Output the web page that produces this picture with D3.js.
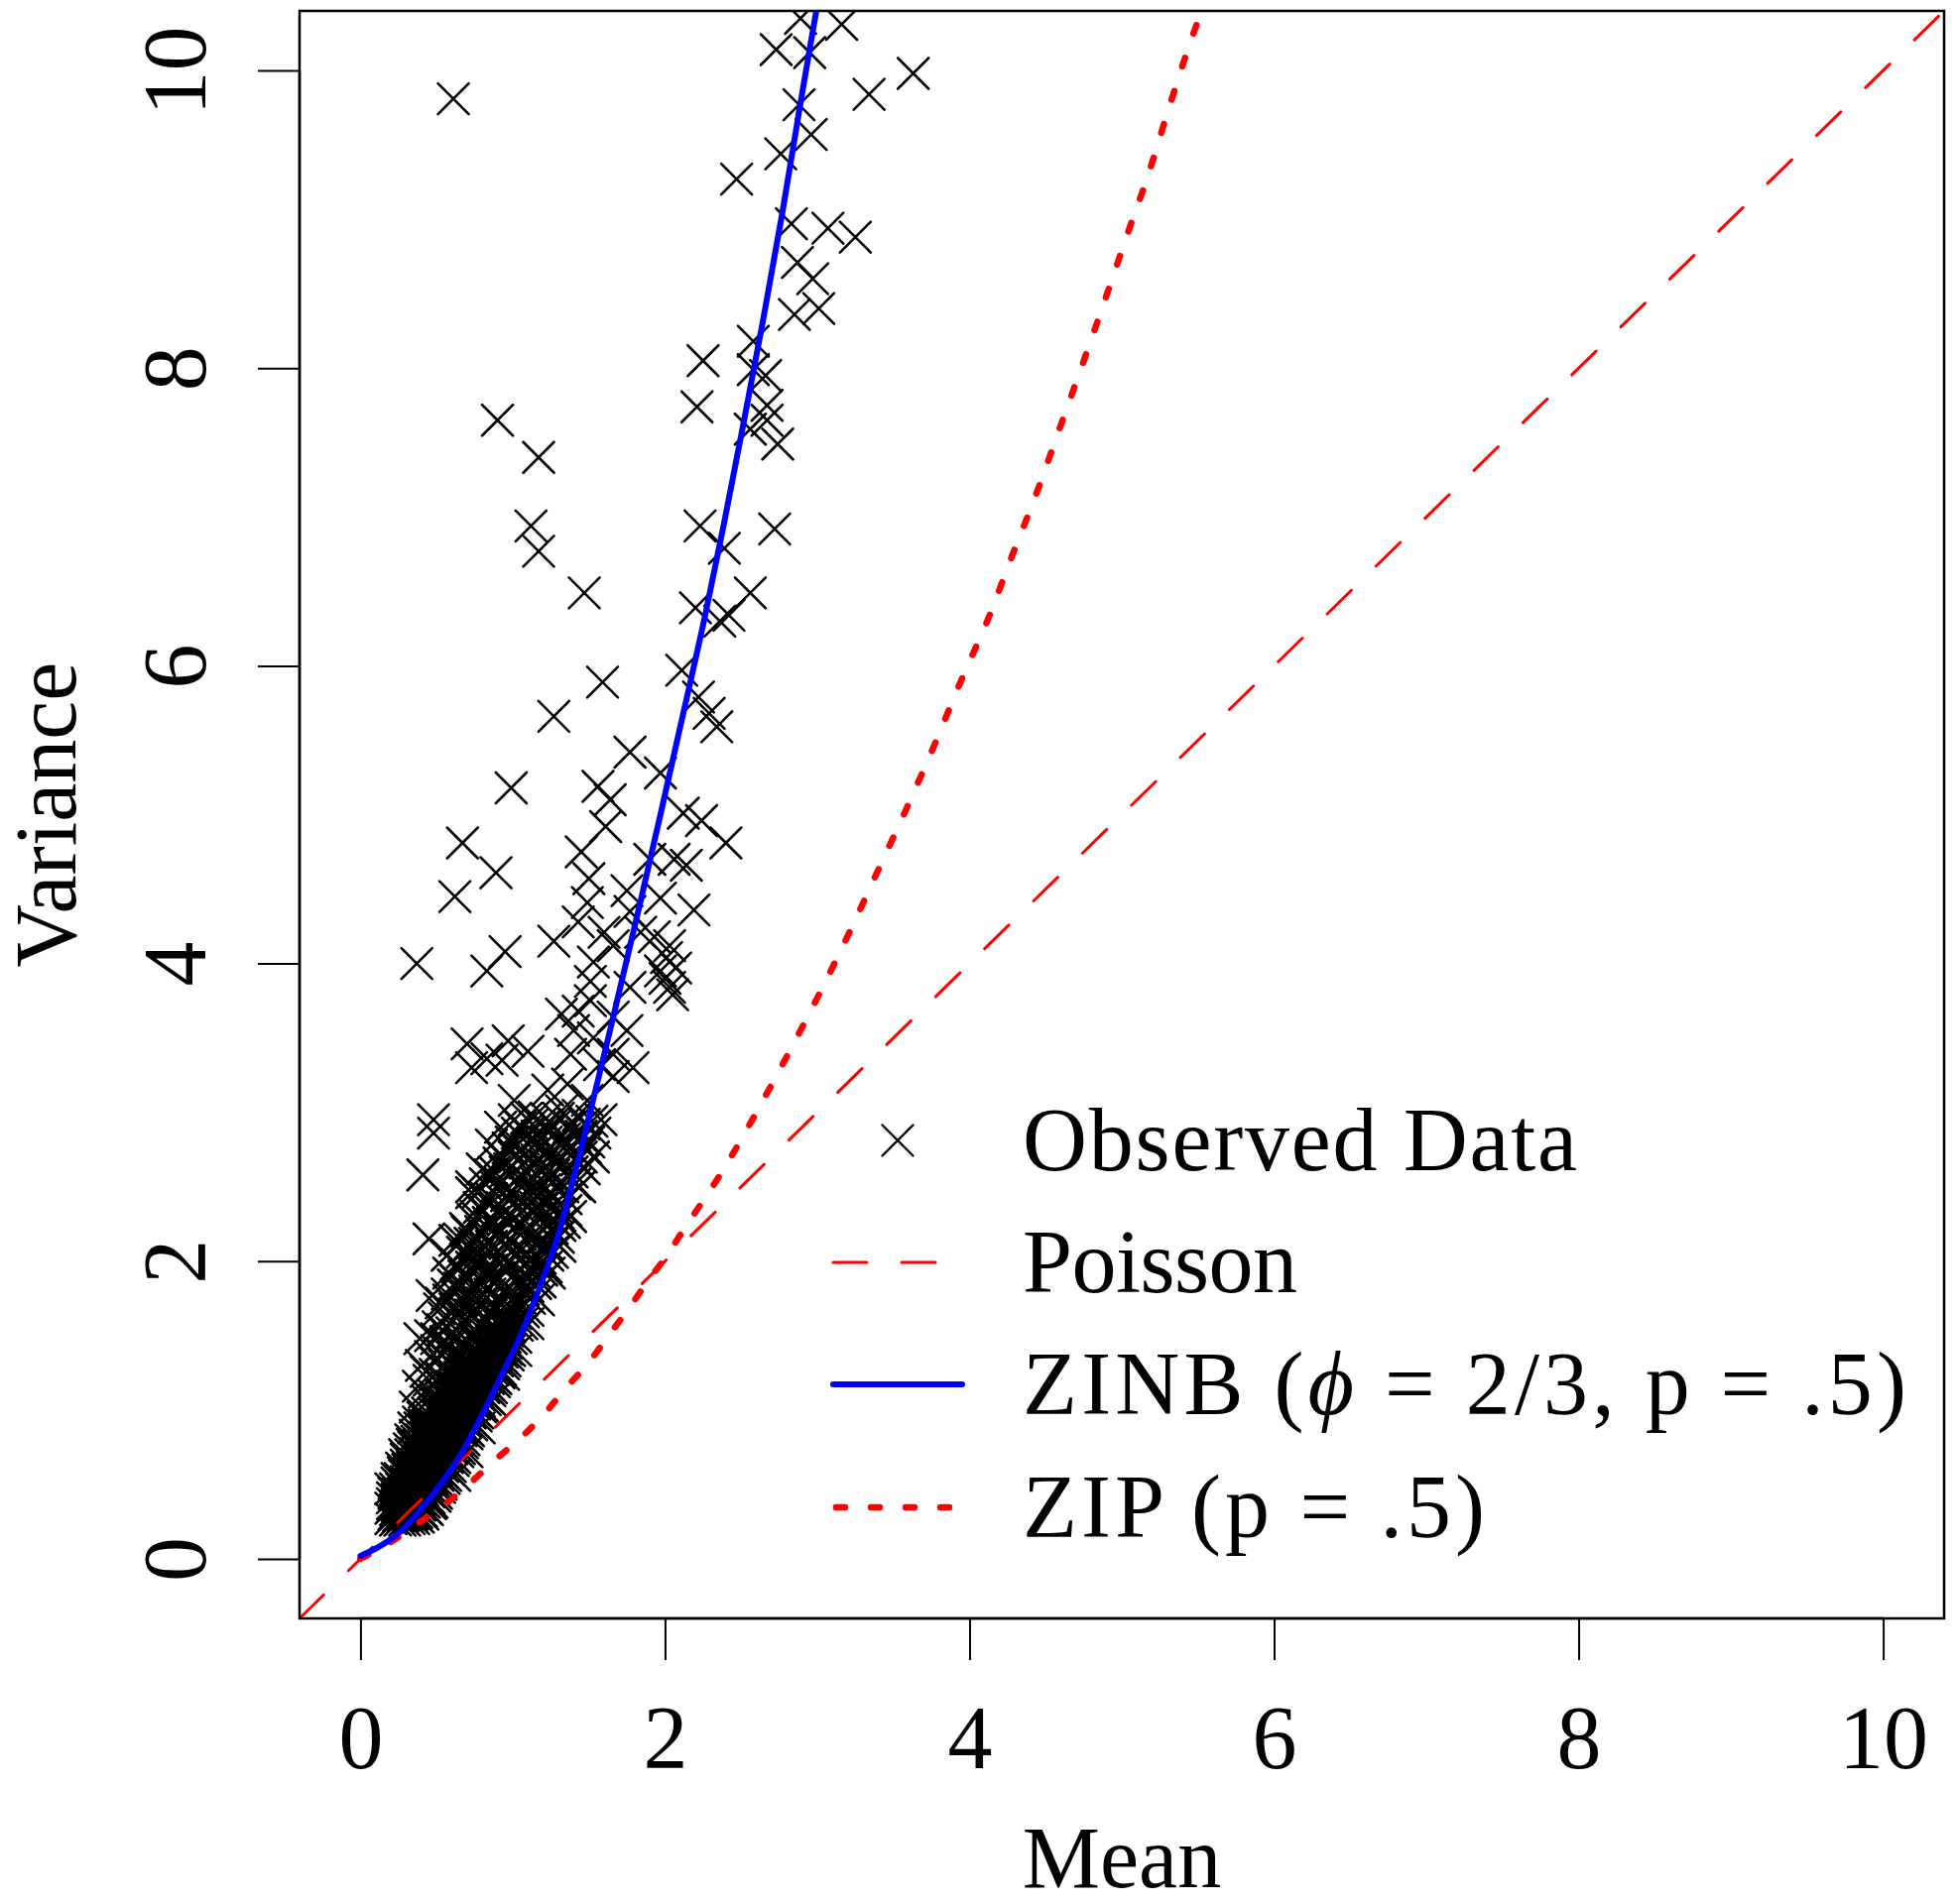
<!DOCTYPE html>
<html>
<head>
<meta charset="utf-8">
<script src="https://cdn.jsdelivr.net/npm/d3@7"></script>
<style>
  body { margin: 0; background: #fff; }
  text { font-family: "Liberation Serif", "DejaVu Serif", serif; fill: #000; }
</style>
</head>
<body>
<div id="chart"></div>
<script>
// observed (mean, variance) pairs
// dense lower blob
let observedCore = [
  [0.20,0.27],[0.20,0.34],[0.21,0.41],[0.20,0.47],
  [0.23,0.26],[0.23,0.33],[0.24,0.40],[0.23,0.47],[0.24,0.54],
  [0.26,0.26],[0.27,0.33],[0.26,0.40],[0.27,0.47],[0.26,0.54],[0.27,0.61],
  [0.29,0.26],[0.30,0.33],[0.29,0.41],[0.30,0.48],[0.29,0.56],[0.30,0.63],[0.29,0.70],
  [0.32,0.27],[0.33,0.34],[0.32,0.42],[0.33,0.50],[0.32,0.58],[0.33,0.66],[0.32,0.74],[0.33,0.80],
  [0.35,0.27],[0.36,0.35],[0.35,0.43],[0.36,0.51],[0.35,0.59],[0.36,0.67],[0.35,0.75],[0.36,0.83],[0.35,0.88],
  [0.38,0.28],[0.39,0.36],[0.38,0.44],[0.39,0.52],[0.38,0.60],[0.39,0.68],[0.38,0.76],[0.39,0.84],[0.38,0.92],
  [0.41,0.30],[0.42,0.38],[0.41,0.46],[0.42,0.54],[0.41,0.62],[0.42,0.70],[0.41,0.78],[0.42,0.86],[0.41,0.95],
  [0.44,0.33],[0.45,0.41],[0.44,0.49],[0.45,0.57],[0.44,0.65],[0.45,0.73],[0.44,0.81],[0.45,0.89],[0.44,0.98],
  [0.47,0.38],[0.48,0.46],[0.47,0.54],[0.48,0.62],[0.47,0.70],[0.48,0.78],[0.47,0.86],[0.48,0.94],[0.47,1.02],
  [0.50,0.44],[0.51,0.52],[0.50,0.60],[0.51,0.68],[0.50,0.76],[0.51,0.84],[0.50,0.92],[0.51,1.00],[0.50,1.06],
  [0.53,0.50],[0.54,0.58],[0.53,0.66],[0.54,0.74],[0.53,0.82],[0.54,0.90],[0.53,0.98],[0.54,1.06],[0.53,1.10],
  [0.56,0.56],[0.57,0.64],[0.56,0.72],[0.57,0.80],[0.56,0.88],[0.57,0.96],[0.56,1.04],[0.57,1.12],
  [0.59,0.62],[0.60,0.70],[0.59,0.78],[0.60,0.86],[0.59,0.94],[0.60,1.02],[0.59,1.10],[0.60,1.16],
  [0.62,0.68],[0.63,0.76],[0.62,0.84],[0.63,0.92],[0.62,1.00],[0.63,1.08],[0.62,1.16],[0.63,1.20],
  [0.65,0.74],[0.66,0.82],[0.65,0.90],[0.66,0.98],[0.65,1.06],[0.66,1.14],[0.65,1.22],
  [0.68,0.80],[0.69,0.88],[0.68,0.96],[0.69,1.04],[0.68,1.12],[0.69,1.20],[0.68,1.27],
  [0.71,0.86],[0.72,0.94],[0.71,1.02],[0.72,1.10],[0.71,1.18],[0.72,1.26],[0.71,1.31],
  [0.74,0.92],[0.75,1.00],[0.74,1.08],[0.75,1.16],[0.74,1.24],[0.75,1.32],
  [0.77,0.98],[0.78,1.06],[0.77,1.14],[0.78,1.22],[0.77,1.30],[0.78,1.36],
  [0.80,1.03],[0.81,1.11],[0.80,1.19],[0.81,1.27],[0.80,1.35],[0.81,1.41],
  [0.83,1.09],[0.84,1.17],[0.83,1.25],[0.84,1.33],[0.83,1.41],[0.84,1.45],
  [0.86,1.15],[0.87,1.23],[0.86,1.31],[0.87,1.39],[0.86,1.47],[0.87,1.50],
  [0.89,1.21],[0.90,1.29],[0.89,1.37],[0.90,1.45],[0.89,1.53],
  [0.92,1.27],[0.93,1.35],[0.92,1.43],[0.93,1.51],[0.92,1.58],
  [0.95,1.33],[0.96,1.41],[0.95,1.49],[0.96,1.57],[0.95,1.63],
  [0.98,1.40],[0.99,1.48],[0.98,1.56],[0.99,1.64],[0.98,1.69],
  [1.02,1.49],[1.03,1.57],[1.02,1.65],[1.03,1.73],
  [1.06,1.58],[1.07,1.66],[1.06,1.74],[1.07,1.81],
  [1.10,1.67],[1.11,1.75],[1.10,1.83],[1.11,1.89],
  [1.14,1.77],[1.15,1.85],[1.14,1.93],[1.15,1.99],
  [1.18,1.86],[1.19,1.94],[1.18,2.02],[1.19,2.08],
  [1.22,1.96],[1.23,2.04],[1.22,2.12],[1.23,2.18],
  [1.26,2.06],[1.27,2.14],[1.26,2.22],[1.27,2.28],
  [1.30,2.16],[1.31,2.24],[1.30,2.32],[1.34,2.26],[1.35,2.34]
];

// more points packed into the solid part of the blob
let observedCoreFill = [
  [0.22,0.30],[0.21,0.37],[0.22,0.44],
  [0.25,0.29],[0.24,0.36],[0.25,0.44],[0.24,0.51],
  [0.28,0.29],[0.27,0.37],[0.28,0.44],[0.27,0.51],[0.28,0.58],
  [0.31,0.30],[0.30,0.37],[0.31,0.45],[0.30,0.52],[0.31,0.60],[0.30,0.67],
  [0.34,0.30],[0.33,0.38],[0.34,0.46],[0.33,0.54],[0.34,0.62],[0.33,0.70],[0.34,0.77],
  [0.37,0.31],[0.36,0.39],[0.37,0.47],[0.36,0.55],[0.37,0.63],[0.36,0.71],[0.37,0.79],
  [0.40,0.32],[0.39,0.40],[0.40,0.48],[0.39,0.56],[0.40,0.64],[0.39,0.72],[0.40,0.80],[0.39,0.88],
  [0.43,0.34],[0.42,0.42],[0.43,0.50],[0.42,0.58],[0.43,0.66],[0.42,0.74],[0.43,0.82],[0.42,0.90],
  [0.46,0.37],[0.45,0.45],[0.46,0.53],[0.45,0.61],[0.46,0.69],[0.45,0.77],[0.46,0.85],[0.45,0.93],
  [0.49,0.42],[0.48,0.50],[0.49,0.58],[0.48,0.66],[0.49,0.74],[0.48,0.82],[0.49,0.90],[0.48,0.98],
  [0.52,0.48],[0.51,0.56],[0.52,0.64],[0.51,0.72],[0.52,0.80],[0.51,0.88],[0.52,0.96],[0.51,1.03],
  [0.55,0.54],[0.54,0.62],[0.55,0.70],[0.54,0.78],[0.55,0.86],[0.54,0.94],[0.55,1.02],
  [0.58,0.60],[0.57,0.68],[0.58,0.76],[0.57,0.84],[0.58,0.92],[0.57,1.00],[0.58,1.08],
  [0.61,0.66],[0.60,0.74],[0.61,0.82],[0.60,0.90],[0.61,0.98],[0.60,1.06],[0.61,1.13],
  [0.64,0.72],[0.63,0.80],[0.64,0.88],[0.63,0.96],[0.64,1.04],[0.63,1.12],
  [0.67,0.78],[0.66,0.86],[0.67,0.94],[0.66,1.02],[0.67,1.10],[0.66,1.18],
  [0.70,0.84],[0.69,0.92],[0.70,1.00],[0.69,1.08],[0.70,1.16],[0.69,1.23],
  [0.73,0.90],[0.72,0.98],[0.73,1.06],[0.72,1.14],[0.73,1.22],[0.72,1.28],
  [0.76,0.96],[0.75,1.04],[0.76,1.12],[0.75,1.20],[0.76,1.28],
  [0.79,1.02],[0.78,1.10],[0.79,1.18],[0.78,1.26],[0.79,1.33],
  [0.82,1.07],[0.81,1.15],[0.82,1.23],[0.81,1.31],[0.82,1.38],
  [0.85,1.13],[0.84,1.21],[0.85,1.29],[0.84,1.37],[0.85,1.43],
  [0.88,1.19],[0.87,1.27],[0.88,1.35],[0.87,1.43],
  [0.91,1.25],[0.90,1.33],[0.91,1.41],[0.90,1.49],
  [0.94,1.31],[0.93,1.39],[0.94,1.47],[0.93,1.55],
  [0.97,1.37],[0.96,1.45],[0.97,1.53],[0.96,1.60],
  // just right of the ZINB curve
  [0.62,0.56],[0.70,0.72],[0.78,0.88],[0.86,1.06],[0.94,1.24],[1.02,1.40],[1.10,1.58],
  [1.17,1.74],[1.24,1.92],[1.31,2.10],[1.38,2.30],[1.44,2.50]
];

// looser band of crosses above the blob
let observedBand = [
  [0.36,1.02],[0.38,1.16],[0.40,1.30],[0.39,1.48],[0.47,1.77],[0.45,2.15],[0.57,2.04],
  [0.44,1.06],[0.45,1.20],[0.46,1.36],
  [0.48,1.10],[0.49,1.24],[0.50,1.40],[0.51,1.56],[0.52,1.68],
  [0.54,1.16],[0.55,1.30],[0.56,1.46],[0.55,1.62],[0.57,1.78],[0.58,1.92],
  [0.60,1.22],[0.61,1.36],[0.60,1.52],[0.62,1.68],[0.61,1.84],[0.63,1.98],[0.62,2.14],
  [0.65,1.29],[0.66,1.44],[0.67,1.58],[0.66,1.74],[0.68,1.90],[0.67,2.06],[0.69,2.22],
  [0.70,1.34],[0.71,1.50],[0.72,1.64],[0.71,1.80],[0.73,1.96],[0.72,2.12],[0.74,2.28],[0.73,2.46],
  [0.76,1.40],[0.77,1.56],[0.76,1.72],[0.78,1.88],[0.77,2.04],[0.79,2.20],[0.78,2.36],[0.80,2.62],
  [0.81,1.48],[0.82,1.62],[0.81,1.78],[0.83,1.94],[0.82,2.10],[0.84,2.26],[0.83,2.42],[0.85,2.58],
  [0.87,1.56],[0.88,1.70],[0.87,1.86],[0.89,2.02],[0.88,2.18],[0.90,2.34],[0.89,2.50],[0.91,2.66],[0.86,2.78],
  [0.93,1.64],[0.94,1.80],[0.93,1.96],[0.95,2.12],[0.94,2.28],[0.96,2.44],[0.95,2.60],[0.97,2.76],[0.92,2.90],
  [0.99,1.74],[1.00,1.90],[0.99,2.06],[1.01,2.22],[1.00,2.38],[1.02,2.54],[1.01,2.70],[1.03,2.86],
  [1.05,1.86],[1.06,2.02],[1.05,2.18],[1.07,2.34],[1.06,2.50],[1.08,2.66],[1.07,2.82],[1.09,2.96],
  [1.11,2.00],[1.12,2.14],[1.11,2.30],[1.13,2.46],[1.12,2.62],[1.14,2.78],[1.13,2.92],
  [1.17,2.12],[1.18,2.28],[1.17,2.44],[1.19,2.60],[1.18,2.76],[1.20,2.90],
  [1.23,2.24],[1.24,2.40],[1.23,2.56],[1.25,2.72],[1.24,2.88],
  [1.29,2.36],[1.30,2.50],[1.29,2.66],[1.31,2.82],[1.30,2.96],
  [1.35,2.42],[1.36,2.58],[1.35,2.74],[1.37,2.90],
  [1.41,2.52],[1.42,2.68],[1.41,2.84],[1.43,2.98],
  [1.47,2.62],[1.48,2.76],[1.47,2.92],
  [1.53,2.70],[1.54,2.86],[1.58,2.95],
  [0.48,2.86],[0.48,2.95],[0.41,2.58],[0.73,2.50],[1.01,2.95]
];

// extra crosses between those of the band
let observedBandFill = [
  [0.42,1.12],[0.43,1.26],[0.46,1.50],[0.49,1.32],[0.50,1.48],[0.53,1.22],[0.53,1.38],[0.54,1.54],[0.53,1.72],
  [0.58,1.26],[0.58,1.42],[0.59,1.58],[0.58,1.74],[0.60,1.90],
  [0.64,1.34],[0.63,1.50],[0.64,1.64],[0.65,1.82],[0.64,1.96],[0.66,2.14],
  [0.69,1.42],[0.69,1.56],[0.70,1.72],[0.70,1.88],[0.71,2.04],[0.70,2.20],
  [0.75,1.48],[0.74,1.64],[0.75,1.80],[0.76,1.96],[0.75,2.12],[0.76,2.30],[0.77,2.46],
  [0.80,1.56],[0.80,1.72],[0.80,1.86],[0.81,2.02],[0.80,2.18],[0.81,2.34],[0.82,2.52],
  [0.86,1.64],[0.85,1.78],[0.86,1.94],[0.86,2.10],[0.87,2.26],[0.86,2.42],[0.88,2.60],
  [0.92,1.72],[0.91,1.88],[0.92,2.04],[0.92,2.20],[0.93,2.36],[0.92,2.52],[0.93,2.70],
  [0.98,1.82],[0.97,1.98],[0.98,2.14],[0.98,2.30],[0.99,2.46],[0.98,2.62],[0.99,2.80],
  [1.04,1.94],[1.03,2.10],[1.04,2.26],[1.04,2.42],[1.05,2.58],[1.04,2.74],[1.05,2.90],
  [1.09,2.06],[1.09,2.22],[1.10,2.38],[1.10,2.54],[1.11,2.70],[1.10,2.86],
  [1.15,2.20],[1.15,2.36],[1.16,2.52],[1.16,2.68],[1.16,2.84],
  [1.21,2.32],[1.21,2.48],[1.22,2.64],[1.22,2.80],[1.22,2.96],
  [1.27,2.44],[1.27,2.58],[1.28,2.74],[1.27,2.90],
  [1.33,2.50],[1.33,2.66],[1.34,2.82],
  [1.39,2.60],[1.39,2.76],[1.40,2.92],
  [1.45,2.70],[1.45,2.84],[1.50,2.80],[1.52,2.94]
];

// sparser upper points and outliers
let observedUpper = [
  [1.14,2.97],[1.32,3.01],[1.49,3.08],[1.01,3.08],[1.23,3.15],[1.36,3.19],[1.66,3.24],[1.79,3.30],
  [0.73,3.30],[0.93,3.35],[0.83,3.36],[1.38,3.39],[1.66,3.39],[1.10,3.41],[0.70,3.46],[0.97,3.48],
  [1.53,3.50],[1.40,3.55],[1.75,3.55],[1.57,3.32],[1.66,3.64],[1.32,3.66],[1.43,3.68],[1.51,3.75],
  [1.51,3.88],[1.77,3.84],[2.03,3.84],[0.83,3.95],[1.97,3.95],[0.37,4.00],[1.53,4.01],[2.01,4.04],
  [0.95,4.08],[1.66,4.12],[2.03,4.12],[1.27,4.15],[1.93,4.18],[1.60,4.21],[1.84,4.21],[1.43,4.28],
  [1.77,4.35],[2.19,4.36],[1.49,4.41],[1.97,4.44],[0.62,4.45],[1.75,4.49],[1.50,4.57],[0.89,4.61],
  [2.14,4.66],[1.90,4.70],[2.06,4.70],[1.45,4.75],[0.67,4.81],[2.40,4.81],[1.61,4.92],[2.24,4.96],
  [2.12,5.01],[1.64,5.10],[0.99,5.18],[1.56,5.19],[1.97,5.28],[1.77,5.42],[2.34,5.59],[1.27,5.66],
  [2.29,5.68],[2.22,5.79],[1.59,5.89],[2.11,5.97],[2.00,3.90],[2.07,3.97],[2.05,3.79],
  [2.20,6.39],[2.42,6.34],[2.36,6.30],[1.47,6.49],[2.56,6.49],[2.39,6.79],[1.17,6.77],[1.12,6.94],
  [2.23,6.94],[2.72,6.92],[1.17,7.40],[2.74,7.49],[2.56,7.59],[0.90,7.65],[2.67,7.65],[2.21,7.74],
  [2.67,7.75],[2.66,7.95],[2.58,7.99],[2.25,8.05],[2.58,8.18],[2.85,8.36],[3.01,8.40],[2.97,8.60],
  [2.87,8.71],[3.25,8.88],[3.07,8.94],[2.83,8.97],[2.47,9.27],[2.76,9.44],[2.96,9.57],[2.88,9.77],
  [0.61,9.81],[3.34,9.84],[3.63,9.98],[2.95,10.12],[2.73,10.14],[3.16,10.31],[2.89,10.35]
];

// Poisson reference line (variance = mean) across the plot
let poissonMean = [-0.4, 10.4];
let poissonVar = [-0.4, 10.4];

// ZINB curve
let zinbMean = [0, 0.12, 0.27, 0.41, 0.54, 0.67, 0.80, 0.93, 1.06, 1.19, 1.30, 1.38, 1.47, 1.66, 1.84, 1.97, 2.10, 2.27, 2.39, 2.51, 2.64, 2.77, 2.88, 2.99, 3.02];
let zinbVar = [0.02, 0.08, 0.19, 0.35, 0.52, 0.72, 0.97, 1.24, 1.52, 1.86, 2.18, 2.48, 2.84, 3.64, 4.42, 5.00, 5.59, 6.37, 6.97, 7.60, 8.30, 9.04, 9.72, 10.38, 10.55];

// ZIP curve
let zipMean = [0, 0.21, 0.38, 0.56, 0.72, 0.89, 1.06, 1.22, 1.36, 1.50, 1.63, 1.76, 1.89, 2.02, 2.14, 2.26, 2.38, 2.49, 2.60, 3.23, 3.41, 3.59, 3.77, 3.94, 4.12, 4.28, 4.44, 4.59, 4.74, 4.89, 5.03, 5.18, 5.31, 5.45, 5.58];
let zipVar = [0, 0.12, 0.24, 0.37, 0.51, 0.67, 0.82, 0.99, 1.16, 1.32, 1.50, 1.68, 1.87, 2.05, 2.24, 2.42, 2.61, 2.80, 3.00, 4.25, 4.65, 5.05, 5.47, 5.89, 6.31, 6.74, 7.16, 7.59, 8.02, 8.46, 8.88, 9.32, 9.75, 10.19, 10.55];

let xTicks = [0, 2, 4, 6, 8, 10];
let yTicks = [0, 2, 4, 6, 8, 10];
let legendLabels = ["Observed Data", "Poisson", "ZINB", "ZIP (p = .5)"];

let width = 1972;
let height = 1920;
let plotLeft = 302, plotRight = 1960, plotTop = 11, plotBottom = 1632;

let svg = d3.select("#chart").append("svg")
    .attr("width", width)
    .attr("height", height);

let x = d3.scaleLinear().domain([-0.4, 10.4]).range([plotLeft, plotRight]);
let y = d3.scaleLinear().domain([-0.4, 10.4]).range([plotBottom, plotTop]);

svg.append("clipPath").attr("id", "plotclip")
  .append("rect")
    .attr("x", plotLeft).attr("y", plotTop)
    .attr("width", plotRight - plotLeft).attr("height", plotBottom - plotTop);

let plot = svg.append("g").attr("clip-path", "url(#plotclip)");

let crossPath = "M-15.5,-15.5L15.5,15.5M-15.5,15.5L15.5,-15.5";

let allObserved = observedCore.concat(observedCoreFill, observedBand, observedBandFill, observedUpper);

plot.selectAll("path.obs")
  .data(allObserved)
  .enter().append("path")
    .attr("class", "obs")
    .attr("d", crossPath)
    .attr("transform", d => "translate(" + x(d[0]) + "," + y(d[1]) + ")")
    .attr("fill", "none")
    .attr("stroke", "#000")
    .attr("stroke-width", 2.6)
    .attr("stroke-linecap", "round");

let line = d3.line()
    .x(d => x(d[0]))
    .y(d => y(d[1]))
    .curve(d3.curveMonotoneX);

let straight = d3.line()
    .x(d => x(d[0]))
    .y(d => y(d[1]));

let poissonPts = poissonMean.map((m, i) => [m, poissonVar[i]]);
let zipPts = zipMean.map((m, i) => [m, zipVar[i]]);
let zinbPts = zinbMean.map((m, i) => [m, zinbVar[i]]);

plot.append("path")
    .datum(poissonPts)
    .attr("d", straight)
    .attr("fill", "none")
    .attr("stroke", "#ff0000")
    .attr("stroke-width", 3)
    .attr("stroke-linecap", "round")
    .attr("stroke-dasharray", "34,35");

plot.append("path")
    .datum(zipPts)
    .attr("d", line)
    .attr("fill", "none")
    .attr("stroke", "#ff0000")
    .attr("stroke-width", 6.5)
    .attr("stroke-linecap", "round")
    .attr("stroke-dasharray", "9,26");

plot.append("path")
    .datum(zinbPts)
    .attr("d", line)
    .attr("fill", "none")
    .attr("stroke", "#0000ff")
    .attr("stroke-width", 6)
    .attr("stroke-linejoin", "round")
    .attr("stroke-linecap", "round");

// box
svg.append("rect")
    .attr("x", plotLeft).attr("y", plotTop)
    .attr("width", plotRight - plotLeft).attr("height", plotBottom - plotTop)
    .attr("fill", "none")
    .attr("stroke", "#000")
    .attr("stroke-width", 2.5);

// axes
let xAxis = d3.axisBottom(x).tickValues(xTicks).tickSize(42).tickFormat(d3.format("d"));
let gx = svg.append("g")
    .attr("transform", "translate(0," + plotBottom + ")")
    .call(xAxis);
gx.select(".domain").remove();
gx.append("line")
    .attr("x1", x(xTicks[0])).attr("x2", x(xTicks[xTicks.length - 1]))
    .attr("stroke", "#000").attr("stroke-width", 2.5);
gx.selectAll(".tick line").attr("stroke-width", 2);
gx.selectAll(".tick text")
    .attr("y", 151)
    .attr("dy", 0)
    .attr("font-size", 90)
    .attr("font-family", "Liberation Serif, DejaVu Serif, serif");

let yAxis = d3.axisLeft(y).tickValues(yTicks).tickSize(42).tickFormat(d3.format("d"));
let gy = svg.append("g")
    .attr("transform", "translate(" + plotLeft + ",0)")
    .call(yAxis);
gy.select(".domain").remove();
gy.append("line")
    .attr("y1", y(yTicks[0])).attr("y2", y(yTicks[yTicks.length - 1]))
    .attr("stroke", "#000").attr("stroke-width", 2.5);
gy.selectAll(".tick line").attr("stroke-width", 2);
gy.selectAll(".tick text")
    .attr("x", 0)
    .attr("dy", 0)
    .attr("transform", "translate(-95,0) rotate(-90)")
    .attr("text-anchor", "middle")
    .attr("font-size", 90)
    .attr("font-family", "Liberation Serif, DejaVu Serif, serif");

// axis titles
svg.append("text")
    .attr("x", (plotLeft + plotRight) / 2)
    .attr("y", 1903)
    .attr("text-anchor", "middle")
    .attr("font-size", 88)
    .text("Mean");

svg.append("text")
    .attr("transform", "translate(76," + ((plotTop + plotBottom) / 2) + ") rotate(-90)")
    .attr("text-anchor", "middle")
    .attr("font-size", 88)
    .text("Variance");

// legend
let legendRows = [1150, 1273, 1396, 1520];
let textLengths = [559, 277, 891, 466];
let legend = svg.append("g");

legend.append("path")
    .attr("d", crossPath)
    .attr("transform", "translate(905," + legendRows[0] + ")")
    .attr("fill", "none")
    .attr("stroke", "#000")
    .attr("stroke-width", 2.4)
    .attr("stroke-linecap", "round");

legend.append("line")
    .attr("x1", 840).attr("x2", 970)
    .attr("y1", legendRows[1]).attr("y2", legendRows[1])
    .attr("stroke", "#ff0000").attr("stroke-width", 3)
    .attr("stroke-linecap", "round")
    .attr("stroke-dasharray", "34,35");

legend.append("line")
    .attr("x1", 840).attr("x2", 970)
    .attr("y1", legendRows[2]).attr("y2", legendRows[2])
    .attr("stroke", "#0000ff").attr("stroke-width", 6)
    .attr("stroke-linecap", "round");

legend.append("line")
    .attr("x1", 843).attr("x2", 970)
    .attr("y1", legendRows[3]).attr("y2", legendRows[3])
    .attr("stroke", "#ff0000").attr("stroke-width", 6.5)
    .attr("stroke-linecap", "round")
    .attr("stroke-dasharray", "9,26");

legendLabels.forEach((label, i) => {
    let t = legend.append("text")
        .attr("x", 1031)
        .attr("y", legendRows[i] + 30)
        .attr("font-size", 90)
        .attr("textLength", textLengths[i])
        .attr("lengthAdjust", "spacing");
    if (label === "ZINB") {
        t.append("tspan").text("ZINB (");
        t.append("tspan").attr("font-style", "italic").text("\u03D5");
        t.append("tspan").text(" = 2/3, p = .5)");
    } else {
        t.text(label);
    }
});
</script>
</body>
</html>
